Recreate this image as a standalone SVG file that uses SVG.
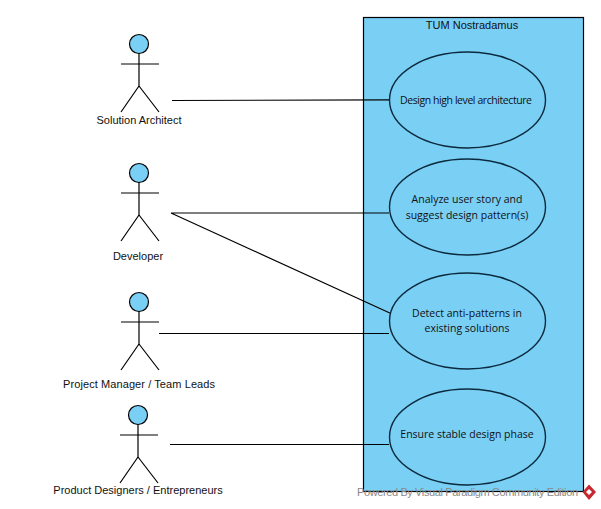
<svg xmlns="http://www.w3.org/2000/svg" width="601" height="509" viewBox="0 0 601 509">
<style>
.s{stroke:#000;stroke-width:1.2;fill:none}
.f{fill:#7acff5;stroke:#000;stroke-width:1.2}
.u{fill:#7acff5;stroke:#0b2a3d;stroke-width:1.4}
text{font-family:"Liberation Sans",Arial,sans-serif;font-size:11px;fill:#111;text-anchor:middle}
.c{font-family:"Open Sans","Liberation Sans",sans-serif;font-size:10.5px}
.w{font-size:11px;fill:#888;text-anchor:start}
</style>
<defs>
<g id="actor">
<circle class="f" cx="139" cy="44" r="9.5"/>
<path class="s" d="M139 53.500V86M121 64H159M139 86L121 112M139 86L159 112"/>
</g>
</defs>
<g id="system"><rect class="f" x="363.500" y="17.500" width="220" height="474"/><text x="472" y="29">TUM Nostradamus</text></g>
<g id="connectors">
<path class="s" d="M172 100.500L390 99.800M171 213H389M171 213L392 314M159 333.500H389M170 444.500H389"/>
</g>
<g id="actor-solution-architect"><use href="#actor"/><text x="139" y="124">Solution Architect</text></g>
<g id="actor-developer"><use href="#actor" y="129"/><text x="138" y="260">Developer</text></g>
<g id="actor-project-manager"><use href="#actor" y="258"/><text x="139" y="388" textLength="152">Project Manager / Team Leads</text></g>
<g id="actor-product-designers"><use href="#actor" x="-1" y="371"/><text x="138" y="494">Product Designers / Entrepreneurs</text></g>
<g id="uc-design"><ellipse class="u" cx="467.500" cy="100" rx="78" ry="48"/><text class="c" x="466" y="104" textLength="132">Design high level architecture</text></g>
<g id="uc-analyze"><ellipse class="u" cx="467.500" cy="207" rx="78" ry="48"/><text class="c" x="467" y="203">Analyze user story and</text><text class="c" x="467" y="219">suggest design pattern(s)</text></g>
<g id="uc-detect"><ellipse class="u" cx="467.500" cy="321" rx="78" ry="48"/><text class="c" x="467" y="317">Detect anti-patterns in</text><text class="c" x="467" y="332">existing solutions</text></g>
<g id="uc-ensure"><ellipse class="u" cx="467.500" cy="437" rx="78" ry="48"/><text class="c" x="467" y="438">Ensure stable design phase</text></g>
<g id="watermark"><text class="w" x="357" y="496" textLength="221">Powered By  Visual Paradigm Community Edition</text><path d="M589 484.500L596 492L589 500L582.500 492Z" fill="#c8282f"/><path d="M589 489L592 492L589 495L586 492Z" fill="#fff"/></g>
</svg>
